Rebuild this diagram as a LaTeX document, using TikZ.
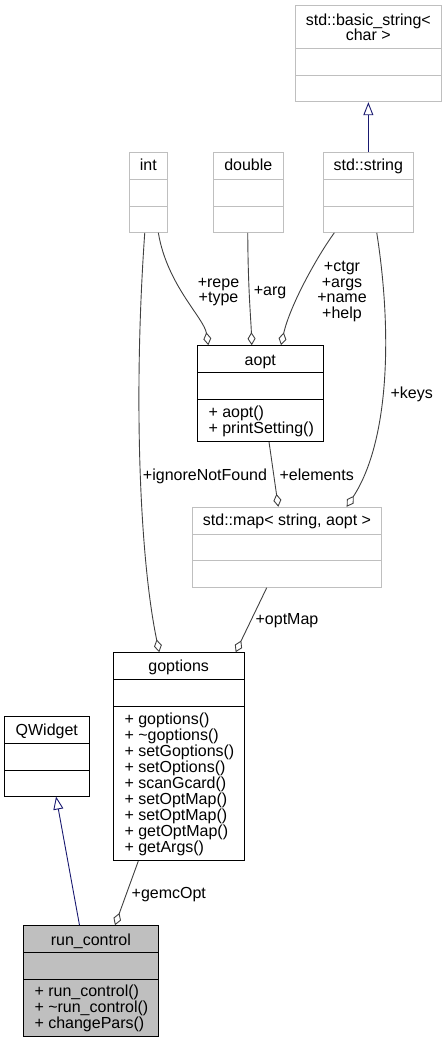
\documentclass[tikz,border=0pt]{standalone}
\usepackage{fontspec}
\setmainfont{Liberation Sans}
\usetikzlibrary{arrows.meta,fit}
\definecolor{boxgray}{HTML}{BFBFBF}
\definecolor{edgegray}{HTML}{404040}
\definecolor{inhblue}{HTML}{191970}
% name, node style, divider style, left, top, right, bottom, div1, div2
\newcommand\umlcls[9]{%
  \node[#2, fit={(#4,#5) (#6,#7)}, inner sep=0pt] (#1) {};
  \draw[#3] (#4,#8) -- (#6,#8) (#4,#9) -- (#6,#9);
}
\begin{document}
\begin{tikzpicture}[x=1pt,y=-1pt,
  every node/.style={font=\fontsize{16}{16}\selectfont, inner sep=0pt},
  graycls/.style={draw=boxgray, line width=1pt},
  blackcls/.style={draw=black, line width=1pt},
  curcls/.style={draw=black, fill=boxgray, line width=1pt},
  graydiv/.style={draw=boxgray, line width=1pt},
  blackdiv/.style={draw=black, line width=1pt},
  agg/.style={draw=edgegray, line width=0.9pt, -{Diamond[open,length=13pt,width=8pt]}},
  inh/.style={draw=inhblue, line width=0.9pt, -{Triangle[open,length=13pt,width=10pt]}},
  txt/.style={anchor=base},
  mth/.style={anchor=base west},
]
\useasboundingbox (0,0) rectangle (447,1044);

% classes
\umlcls{bstr}{graycls}{graydiv}{295}{5.7}{441.7}{101.7}{48.3}{75}
\umlcls{int}{graycls}{graydiv}{129}{152.7}{167.7}{232.3}{179.3}{206}
\umlcls{dbl}{graycls}{graydiv}{213.7}{152.7}{283}{232.3}{179.3}{206}
\umlcls{str}{graycls}{graydiv}{323}{152.7}{413.7}{232.3}{179.3}{206}
\umlcls{aopt}{blackcls}{blackdiv}{197}{345.7}{323.7}{441.7}{372.3}{399.7}
\umlcls{map}{graycls}{graydiv}{192.3}{507.3}{381.7}{587.3}{534}{560.7}
\umlcls{gopt}{blackcls}{blackdiv}{113}{652.7}{244.3}{860.7}{679.3}{706}
\umlcls{qw}{blackcls}{blackdiv}{4.7}{716.7}{89}{796}{743.3}{770}
\umlcls{rc}{curcls}{blackdiv}{23.3}{925.7}{158.3}{1036.7}{952.3}{979.3}

% titles
\node[txt] (bstrT1) at (368.3,25) {std::basic\_string<};
\node[txt] (bstrT2) at (368.3,40.5) {char >};
\node[txt] (intT) at (148.3,170.7) {int};
\node[txt] (dblT) at (248.3,170.7) {double};
\node[txt] (strT) at (368.3,170.7) {std::string};
\node[txt] (aoptT) at (260.3,365) {aopt};
\node[txt] (mapT) at (287,525.7) {std::map< string, aopt >};
\node[txt] (goptT) at (178.7,671) {goptions};
\node[txt] (qwT) at (46.8,735) {QWidget};
\node[txt] (rcT) at (90.8,945) {run\_control};

% methods
\node[mth] (aoptM1) at (208.3,417.7) {+ aopt()};
\node[mth] (aoptM2) at (208.3,433.7) {+ printSetting()};
\foreach \m [count=\i from 0] in {goptions(),\textasciitilde goptions(),setGoptions(),setOptions(),scanGcard(),setOptMap(),setOptMap(),getOptMap(),getArgs()}
  \node[mth] (goptM\i) at (124.3,724.3+16.04*\i) {+ \m};
\node[mth] (rcM1) at (34.3,996) {+ run\_control()};
\node[mth] (rcM2) at (34.3,1012) {+ \textasciitilde run\_control()};
\node[mth] (rcM3) at (34.3,1028) {+ changePars()};

% inheritance
\draw[inh] (str.north) -- (bstr.south);
\draw[inh] ([xshift=-11.3pt]rc.north) -- ([xshift=9.2pt]qw.south);

% aggregation
\draw[agg] ([xshift=-3.6pt]int.south) .. controls (133,400) and (140,560) .. ([xshift=-19.4pt]gopt.north);
\draw[agg] ([xshift=10pt]int.south) .. controls (167,285) and (204,318) .. ([xshift=-52pt]aopt.north);
\draw[agg] ([xshift=-0.6pt]dbl.south) .. controls (248,290) and (251,320) .. ([xshift=-8.6pt]aopt.north);
\draw[agg] ([xshift=-34pt]str.south) .. controls (318,255) and (290,305) .. ([xshift=20.7pt]aopt.north);
\draw[agg] ([xshift=8.4pt]str.south) .. controls (392,330) and (390,440) .. ([xshift=59.7pt]map.north);
\draw[agg] ([xshift=8.7pt]aopt.south) -- ([xshift=-8.7pt]map.north);
\draw[agg] ([xshift=-20.3pt]map.south) -- ([xshift=57pt]gopt.north);
\draw[agg] ([xshift=-40.4pt]gopt.south) -- ([xshift=24.2pt]rc.north);

% edge labels
\node[txt] (lRepe) at (218.5,287.7) {+repe};
\node[txt] (lType) at (218.5,302.7) {+type};
\node[txt] (lArg) at (270,295.7) {+arg};
\node[txt] (lCtgr) at (342,271.7) {+ctgr};
\node[txt] (lArgs) at (342,287.2) {+args};
\node[txt] (lName) at (342,302.7) {+name};
\node[txt] (lHelp) at (342,318.2) {+help};
\node[txt] (lKeys) at (411.7,398.3) {+keys};
\node[txt] (lIgn) at (205,480) {+ignoreNotFound};
\node[txt] (lElem) at (316.7,480) {+elements};
\node[txt] (lOpt) at (287,624) {+optMap};
\node[txt] (lGemc) at (168.8,898) {+gemcOpt};
\end{tikzpicture}
\end{document}
